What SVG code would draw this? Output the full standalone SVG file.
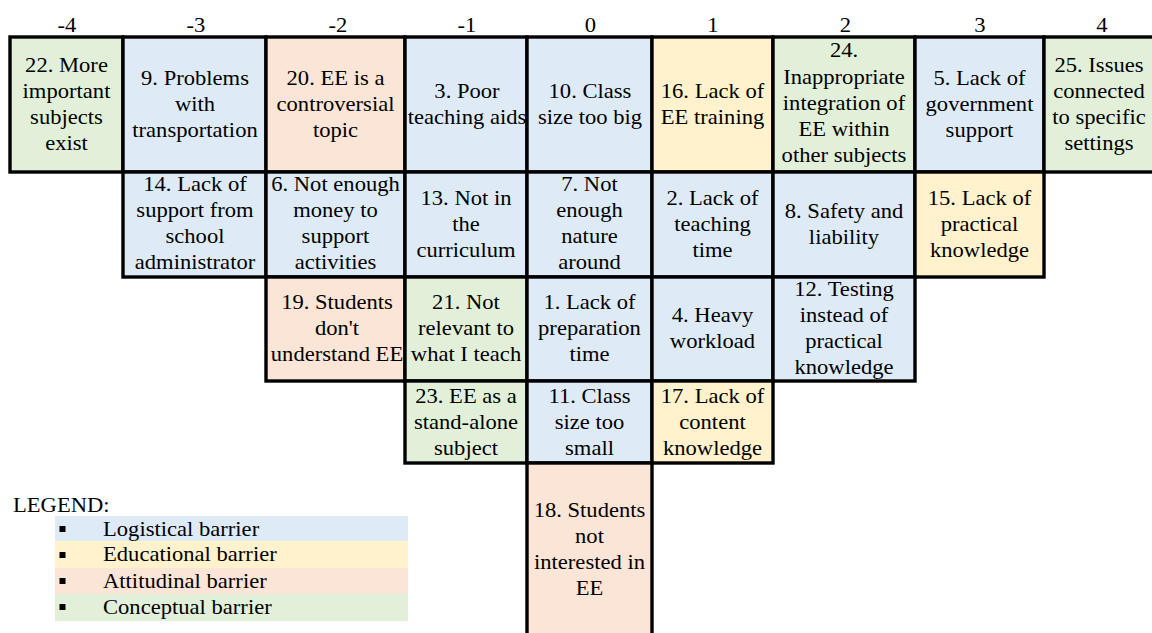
<svg xmlns="http://www.w3.org/2000/svg" width="1152" height="633" viewBox="0 0 1152 633" font-family="Liberation Serif, Times New Roman, Times, serif" font-size="20">
<style>
.c { text-anchor: middle; }
.cell { stroke: #000; stroke-width: 3.4; }
.lg { fill: #DEEBF7; }
.ed { fill: #FFF2CC; }
.at { fill: #FBE5D6; }
.co { fill: #E2F0D9; }
</style>
<rect width="1152" height="633" fill="#fff"/>
<g id="header">
<text class="c" transform="translate(67 0) scale(1.13 1)" x="0" y="32">-4</text>
<text class="c" transform="translate(196 0) scale(1.13 1)" x="0" y="32">-3</text>
<text class="c" transform="translate(338 0) scale(1.13 1)" x="0" y="32">-2</text>
<text class="c" transform="translate(467 0) scale(1.13 1)" x="0" y="32">-1</text>
<text class="c" transform="translate(590.5 0) scale(1.13 1)" x="0" y="32">0</text>
<text class="c" transform="translate(713 0) scale(1.13 1)" x="0" y="32">1</text>
<text class="c" transform="translate(845.5 0) scale(1.13 1)" x="0" y="32">2</text>
<text class="c" transform="translate(980 0) scale(1.13 1)" x="0" y="32">3</text>
<text class="c" transform="translate(1102 0) scale(1.13 1)" x="0" y="32">4</text>
</g>
<!-- Row 1 -->
<g id="n22"><rect class="cell co" x="10" y="37" width="113" height="135"/>
<text class="c" transform="translate(66.5 0) scale(1.13 1)"><tspan x="0" y="72">22. More</tspan><tspan x="0" y="98">important</tspan><tspan x="0" y="124">subjects</tspan><tspan x="0" y="150">exist</tspan></text></g>
<g id="n9"><rect class="cell lg" x="123" y="37" width="143" height="135"/>
<text class="c" transform="translate(195 0) scale(1.13 1)"><tspan x="0" y="85">9. Problems</tspan><tspan x="0" y="111">with</tspan><tspan x="0" y="137">transportation</tspan></text></g>
<g id="n20"><rect class="cell at" x="266" y="37" width="139" height="135"/>
<text class="c" transform="translate(335.5 0) scale(1.13 1)"><tspan x="0" y="85">20. EE is a</tspan><tspan x="0" y="111">controversial</tspan><tspan x="0" y="137">topic</tspan></text></g>
<g id="n3"><rect class="cell lg" x="405" y="37" width="122" height="135"/>
<text class="c" transform="translate(467 0) scale(1.13 1)"><tspan x="0" y="98">3. Poor</tspan><tspan x="0" y="124">teaching aids</tspan></text></g>
<g id="n10"><rect class="cell lg" x="527" y="37" width="125" height="135"/>
<text class="c" transform="translate(590 0) scale(1.13 1)"><tspan x="0" y="98">10. Class</tspan><tspan x="0" y="124">size too big</tspan></text></g>
<g id="n16"><rect class="cell ed" x="652" y="37" width="121" height="135"/>
<text class="c" transform="translate(712.5 0) scale(1.13 1)"><tspan x="0" y="98">16. Lack of</tspan><tspan x="0" y="124">EE training</tspan></text></g>
<g id="n24"><rect class="cell co" x="773" y="37" width="142" height="135"/>
<text class="c" transform="translate(844 0) scale(1.13 1)"><tspan x="0" y="57">24.</tspan><tspan x="0" y="84">Inappropriate</tspan><tspan x="0" y="110.5">integration of</tspan><tspan x="0" y="136.5">EE within</tspan><tspan x="0" y="162">other subjects</tspan></text></g>
<g id="n5"><rect class="cell lg" x="915" y="37" width="129" height="135"/>
<text class="c" transform="translate(979.5 0) scale(1.13 1)"><tspan x="0" y="85">5. Lack of</tspan><tspan x="0" y="111">government</tspan><tspan x="0" y="137">support</tspan></text></g>
<g id="n25"><rect class="cell co" x="1044" y="37" width="120" height="135"/>
<text class="c" transform="translate(1099 0) scale(1.13 1)"><tspan x="0" y="72">25. Issues</tspan><tspan x="0" y="98">connected</tspan><tspan x="0" y="124">to specific</tspan><tspan x="0" y="150">settings</tspan></text></g>
<!-- Row 2 -->
<g id="n14"><rect class="cell lg" x="123" y="172" width="143" height="105"/>
<text class="c" transform="translate(195 0) scale(1.13 1)"><tspan x="0" y="191">14. Lack of</tspan><tspan x="0" y="217">support from</tspan><tspan x="0" y="243">school</tspan><tspan x="0" y="269">administrator</tspan></text></g>
<g id="n6"><rect class="cell lg" x="266" y="172" width="139" height="105"/>
<text class="c" transform="translate(335.5 0) scale(1.13 1)"><tspan x="0" y="191">6. Not enough</tspan><tspan x="0" y="217">money to</tspan><tspan x="0" y="243">support</tspan><tspan x="0" y="269">activities</tspan></text></g>
<g id="n13"><rect class="cell lg" x="405" y="172" width="122" height="105"/>
<text class="c" transform="translate(466 0) scale(1.13 1)"><tspan x="0" y="205">13. Not in</tspan><tspan x="0" y="231">the</tspan><tspan x="0" y="257">curriculum</tspan></text></g>
<g id="n7"><rect class="cell lg" x="527" y="172" width="125" height="105"/>
<text class="c" transform="translate(589.5 0) scale(1.13 1)"><tspan x="0" y="191">7. Not</tspan><tspan x="0" y="217">enough</tspan><tspan x="0" y="243">nature</tspan><tspan x="0" y="269">around</tspan></text></g>
<g id="n2"><rect class="cell lg" x="652" y="172" width="121" height="105"/>
<text class="c" transform="translate(712.5 0) scale(1.13 1)"><tspan x="0" y="205">2. Lack of</tspan><tspan x="0" y="231">teaching</tspan><tspan x="0" y="257">time</tspan></text></g>
<g id="n8"><rect class="cell lg" x="773" y="172" width="142" height="105"/>
<text class="c" transform="translate(844 0) scale(1.13 1)"><tspan x="0" y="218">8. Safety and</tspan><tspan x="0" y="244">liability</tspan></text></g>
<g id="n15"><rect class="cell ed" x="915" y="172" width="129" height="105"/>
<text class="c" transform="translate(979.5 0) scale(1.13 1)"><tspan x="0" y="205">15. Lack of</tspan><tspan x="0" y="231">practical</tspan><tspan x="0" y="257">knowledge</tspan></text></g>
<!-- Row 3 -->
<g id="n19"><rect class="cell at" x="266" y="277" width="139" height="104"/>
<text class="c" transform="translate(337 0) scale(1.13 1)"><tspan x="0" y="309.5">19. Students</tspan><tspan x="0" y="335.5">don't</tspan><tspan x="0" y="361.5">understand EE</tspan></text></g>
<g id="n21"><rect class="cell co" x="405" y="277" width="122" height="104"/>
<text class="c" transform="translate(466 0) scale(1.13 1)"><tspan x="0" y="309.5">21. Not</tspan><tspan x="0" y="335.5">relevant to</tspan><tspan x="0" y="361.5">what I teach</tspan></text></g>
<g id="n1"><rect class="cell lg" x="527" y="277" width="125" height="104"/>
<text class="c" transform="translate(589.5 0) scale(1.13 1)"><tspan x="0" y="309.5">1. Lack of</tspan><tspan x="0" y="335.5">preparation</tspan><tspan x="0" y="361.5">time</tspan></text></g>
<g id="n4"><rect class="cell lg" x="652" y="277" width="121" height="104"/>
<text class="c" transform="translate(712.5 0) scale(1.13 1)"><tspan x="0" y="322.5">4. Heavy</tspan><tspan x="0" y="348.5">workload</tspan></text></g>
<g id="n12"><rect class="cell lg" x="773" y="277" width="142" height="104"/>
<text class="c" transform="translate(844 0) scale(1.13 1)"><tspan x="0" y="296.5">12. Testing</tspan><tspan x="0" y="322.5">instead of</tspan><tspan x="0" y="348.5">practical</tspan><tspan x="0" y="374.5">knowledge</tspan></text></g>
<!-- Row 4 -->
<g id="n23"><rect class="cell co" x="405" y="381" width="122" height="82"/>
<text class="c" transform="translate(466 0) scale(1.13 1)"><tspan x="0" y="403">23. EE as a</tspan><tspan x="0" y="429">stand-alone</tspan><tspan x="0" y="455">subject</tspan></text></g>
<g id="n11"><rect class="cell lg" x="527" y="381" width="125" height="82"/>
<text class="c" transform="translate(589.5 0) scale(1.13 1)"><tspan x="0" y="403">11. Class</tspan><tspan x="0" y="429">size too</tspan><tspan x="0" y="455">small</tspan></text></g>
<g id="n17"><rect class="cell ed" x="652" y="381" width="121" height="82"/>
<text class="c" transform="translate(712.5 0) scale(1.13 1)"><tspan x="0" y="403">17. Lack of</tspan><tspan x="0" y="429">content</tspan><tspan x="0" y="455">knowledge</tspan></text></g>
<!-- Row 5 -->
<g id="n18"><rect class="cell at" x="527" y="463" width="125" height="185"/>
<text class="c" transform="translate(589.5 0) scale(1.13 1)"><tspan x="0" y="517">18. Students</tspan><tspan x="0" y="543">not</tspan><tspan x="0" y="569">interested in</tspan><tspan x="0" y="595">EE</tspan></text></g>
<!-- Legend -->
<g id="legend">
<text transform="translate(13 0) scale(1.13 1)" x="0" y="512">LEGEND:</text>
<rect class="lg" x="55" y="516" width="353" height="25"/>
<rect class="ed" x="55" y="541" width="353" height="27"/>
<rect class="at" x="55" y="568" width="353" height="26"/>
<rect class="co" x="55" y="594" width="353" height="27"/>
<rect x="59.5" y="526" width="6" height="6" fill="#000"/>
<rect x="59.5" y="552" width="6" height="6" fill="#000"/>
<rect x="59.5" y="578" width="6" height="6" fill="#000"/>
<rect x="59.5" y="604" width="6" height="6" fill="#000"/>
<text transform="translate(103 0) scale(1.13 1)" x="0" y="536">Logistical barrier</text>
<text transform="translate(103 0) scale(1.13 1)" x="0" y="561.5">Educational barrier</text>
<text transform="translate(103 0) scale(1.13 1)" x="0" y="588">Attitudinal barrier</text>
<text transform="translate(103 0) scale(1.13 1)" x="0" y="614">Conceptual barrier</text>
</g>
</svg>
